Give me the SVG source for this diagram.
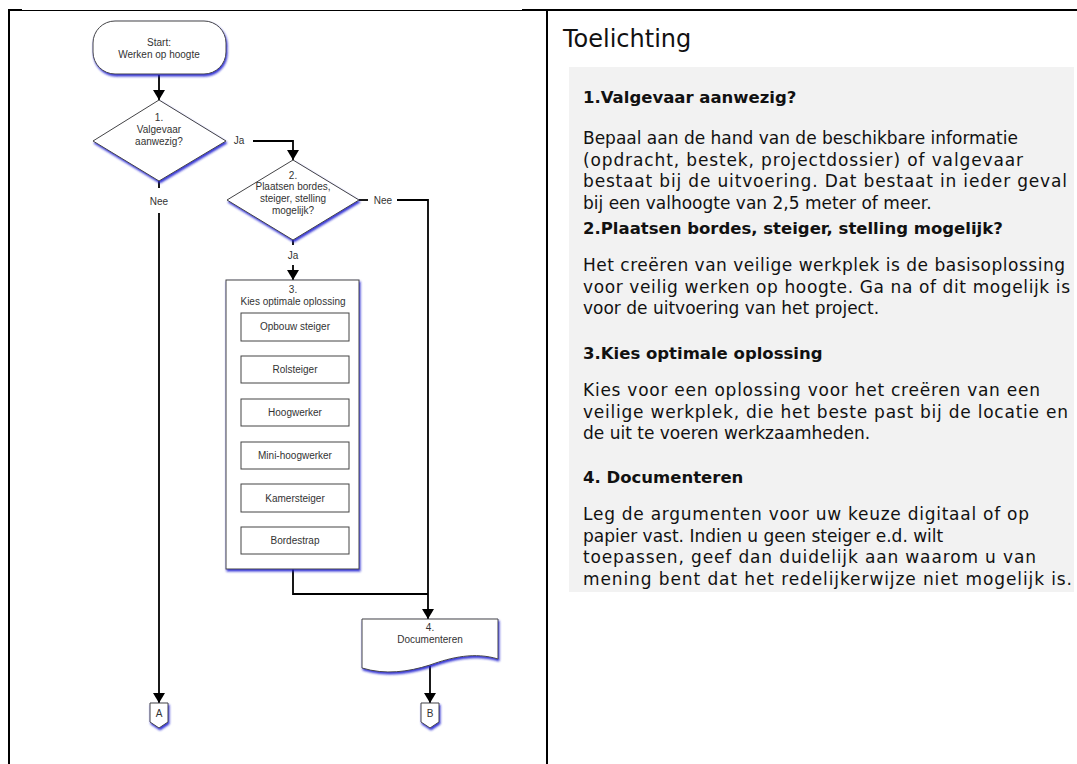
<svg xmlns="http://www.w3.org/2000/svg" width="1077" height="764" viewBox="0 0 1077 764">
<defs>
<style>
.fc{font-family:"Liberation Sans",Arial,sans-serif;font-size:10px;fill:#333;text-anchor:middle}
.shape{fill:#fff;stroke:#444;stroke-width:1;filter:url(#sh)}
.box{fill:#fff;stroke:#444;stroke-width:1}
.ln{fill:none;stroke:#000;stroke-width:1.8}
.hd{font-family:"DejaVu Sans",sans-serif;font-size:16.5px;font-weight:bold;fill:#111}
.bd{font-family:"DejaVu Sans",sans-serif;font-size:17px;fill:#111}
</style>
<filter id="sh" x="-20%" y="-20%" width="140%" height="140%">
<feDropShadow dx="1" dy="2" stdDeviation="0.8" flood-color="#1c1cd0" flood-opacity="0.9"/>
</filter>
<marker id="ah" viewBox="0 0 10 12" refX="10" refY="6" markerWidth="10" markerHeight="12" markerUnits="userSpaceOnUse" orient="auto">
<path d="M0,0 L10,6 L0,12 Z" fill="#000"/>
</marker>
</defs>
<rect width="1077" height="764" fill="#fff"/>
<g id="frame">
<line x1="9" y1="10" x2="9" y2="764" stroke="#000" stroke-width="2"/>
<line x1="8" y1="10" x2="22" y2="10" stroke="#000" stroke-width="2"/>
<line x1="22" y1="10.5" x2="522" y2="10.5" stroke="#000" stroke-width="1"/>
<line x1="522" y1="10" x2="1077" y2="10" stroke="#000" stroke-width="2"/>
<line x1="547" y1="10" x2="547" y2="764" stroke="#000" stroke-width="2"/>
</g>
<g id="connectors">
<line class="ln" x1="159" y1="75" x2="159" y2="100" marker-end="url(#ah)"/>
<polyline class="ln" points="253,141 293,141 293,160" marker-end="url(#ah)"/>
<line class="ln" x1="159" y1="181" x2="159" y2="188"/>
<line class="ln" x1="159" y1="213" x2="159" y2="703" marker-end="url(#ah)"/>
<line class="ln" x1="359" y1="200" x2="368" y2="200"/>
<polyline class="ln" points="397,200 428,200 428,619" marker-end="url(#ah)"/>
<line class="ln" x1="293" y1="240" x2="293" y2="245"/>
<line class="ln" x1="293" y1="265" x2="293" y2="280" marker-end="url(#ah)"/>
<polyline class="ln" points="293,569 293,594 428,594"/>
<line class="ln" x1="430" y1="666" x2="430" y2="703" marker-end="url(#ah)"/>
<text class="fc" x="239" y="144">Ja</text>
<text class="fc" x="159" y="205">Nee</text>
<text class="fc" x="383" y="204">Nee</text>
<text class="fc" x="293" y="259">Ja</text>
</g>
<g id="start">
<rect class="shape" x="93" y="21" width="133" height="53" rx="22"/>
<text class="fc" x="159" y="46">Start:</text>
<text class="fc" x="159" y="58">Werken op hoogte</text>
</g>
<g id="d1">
<polygon class="shape" points="159,100 226,141 159,181 93,141"/>
<text class="fc" x="159" y="121">1.</text>
<text class="fc" x="159" y="133">Valgevaar</text>
<text class="fc" x="159" y="145">aanwezig?</text>
</g>
<g id="d2">
<polygon class="shape" points="293,160 359,200 293,240 227,200"/>
<text class="fc" x="293" y="179">2.</text>
<text class="fc" x="293" y="190">Plaatsen  bordes,</text>
<text class="fc" x="293" y="202">steiger, stelling</text>
<text class="fc" x="293" y="214">mogelijk?</text>
</g>
<g id="n3">
<rect class="shape" x="226" y="280" width="133" height="289"/>
<text class="fc" x="293" y="293">3.</text>
<text class="fc" x="293" y="305">Kies optimale oplossing</text>
<rect class="box" x="241" y="313" width="108" height="28"/>
<text class="fc" x="295" y="330">Opbouw steiger</text>
<rect class="box" x="241" y="356" width="108" height="27"/>
<text class="fc" x="295" y="373">Rolsteiger</text>
<rect class="box" x="241" y="399" width="108" height="27"/>
<text class="fc" x="295" y="416">Hoogwerker</text>
<rect class="box" x="241" y="442" width="108" height="27"/>
<text class="fc" x="295" y="459">Mini-hoogwerker</text>
<rect class="box" x="241" y="484" width="108" height="28"/>
<text class="fc" x="295" y="502">Kamersteiger</text>
<rect class="box" x="241" y="527" width="108" height="27"/>
<text class="fc" x="295" y="544">Bordestrap</text>
</g>
<g id="n4">
<path class="shape" d="M362,619 H498 V659 C475,652 452,657 430,665 C408,672 385,675 362,668 Z"/>
<text class="fc" x="430" y="631">4.</text>
<text class="fc" x="430" y="643">Documenteren</text>
</g>
<g id="cA">
<path class="shape" d="M150,703 H168 V722 L159,728 L150,722 Z"/>
<text class="fc" x="159" y="717">A</text>
</g>
<g id="cB">
<path class="shape" d="M421,703 H439 V722 L430,728 L421,722 Z"/>
<text class="fc" x="430" y="717">B</text>
</g>
<g id="toelichting">
<rect x="569" y="67" width="505" height="525" fill="#f2f2f2"/>
<text x="563" y="47" font-family="DejaVu Sans, sans-serif" font-size="24" fill="#111">Toelichting</text>
<text class="hd" x="583" y="103">1.Valgevaar aanwezig?</text>
<text class="bd" x="583" y="144">Bepaal aan de hand van de beschikbare informatie</text>
<text class="bd" x="583" y="165.5" textLength="440" lengthAdjust="spacing">(opdracht, bestek, projectdossier) of valgevaar</text>
<text class="bd" x="583" y="187" textLength="484" lengthAdjust="spacing">bestaat bij de uitvoering. Dat bestaat in ieder geval</text>
<text class="bd" x="583" y="208.5">bij een valhoogte van 2,5 meter of meer.</text>
<text class="hd" x="583" y="234">2.Plaatsen bordes, steiger, stelling mogelijk?</text>
<text class="bd" x="583" y="271" textLength="482" lengthAdjust="spacing">Het creëren van veilige werkplek is de basisoplossing</text>
<text class="bd" x="583" y="292.5" textLength="487" lengthAdjust="spacing">voor veilig werken op hoogte. Ga na of dit mogelijk is</text>
<text class="bd" x="583" y="314">voor de uitvoering van het project.</text>
<text class="hd" x="583" y="359">3.Kies optimale oplossing</text>
<text class="bd" x="583" y="396" textLength="457" lengthAdjust="spacing">Kies voor een oplossing voor het creëren van een</text>
<text class="bd" x="583" y="417.5" textLength="485" lengthAdjust="spacing">veilige werkplek, die het beste past bij de locatie en</text>
<text class="bd" x="583" y="439">de uit te voeren werkzaamheden.</text>
<text class="hd" x="583" y="483">4. Documenteren</text>
<text class="bd" x="583" y="520" textLength="446" lengthAdjust="spacing">Leg de argumenten voor uw keuze digitaal of op</text>
<text class="bd" x="583" y="541.5">papier vast. Indien u geen steiger e.d. wilt</text>
<text class="bd" x="583" y="563" textLength="453" lengthAdjust="spacing">toepassen, geef dan duidelijk aan waarom u van</text>
<text class="bd" x="583" y="584.5" textLength="489" lengthAdjust="spacing">mening bent dat het redelijkerwijze niet mogelijk is.</text>
</g>
</svg>
